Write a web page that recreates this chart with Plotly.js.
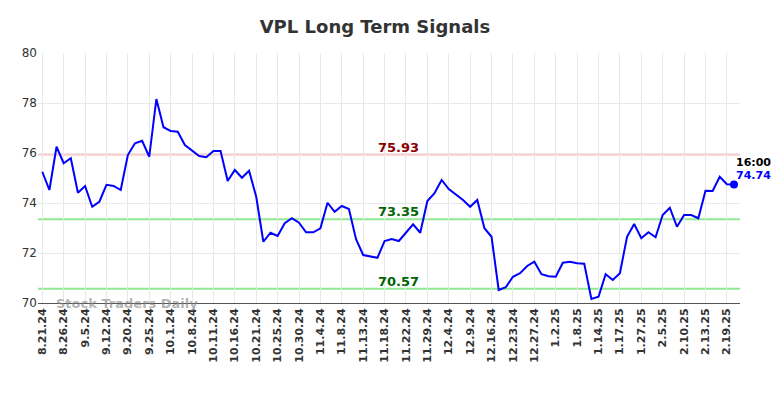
<!DOCTYPE html>
<html>
<head>
<meta charset="utf-8">
<script src="https://cdn.plot.ly/plotly-3.0.1.min.js"></script>
<style>html,body{margin:0;padding:0;background:#fff;}#chart{width:784px;height:398px;}</style>
</head>
<body>
<div id="chart"></div>
<script>
const tickLabels = ["8.21.24","8.26.24","9.5.24","9.12.24","9.20.24","9.25.24","10.1.24","10.8.24","10.11.24","10.16.24","10.21.24","10.25.24","10.30.24","11.4.24","11.8.24","11.13.24","11.18.24","11.22.24","11.29.24","12.4.24","12.9.24","12.16.24","12.23.24","12.27.24","1.2.25","1.8.25","1.14.25","1.17.25","1.27.25","2.5.25","2.10.25","2.13.25","2.19.25"];
const prices = [75.25,74.52,76.25,75.59,75.79,74.41,74.68,73.85,74.05,74.73,
74.68,74.52,75.92,76.39,76.49,75.85,78.16,77.03,76.88,76.85,
76.32,76.09,75.88,75.83,76.08,76.08,74.88,75.32,75.01,75.29,
74.25,72.45,72.81,72.68,73.19,73.39,73.21,72.83,72.83,72.99,
74.01,73.65,73.88,73.76,72.55,71.92,71.85,71.81,72.48,72.56,
72.48,72.81,73.15,72.81,74.08,74.39,74.92,74.56,74.35,74.12,
73.85,74.12,72.99,72.65,70.52,70.63,71.05,71.19,71.48,71.65,
71.15,71.07,71.05,71.61,71.65,71.59,71.57,70.16,70.25,71.15,
70.92,71.19,72.65,73.16,72.59,72.83,72.63,73.52,73.81,73.05,
73.52,73.52,73.39,74.49,74.48,75.05,74.75,74.74];
const resistance = 75.93;
const midLevel = 73.35;
const support = 70.57;
const lastTime = "16:00";

const idx = prices.map((_, i) => i);
const tickVals = tickLabels.map((_, i) => i * 3);
const last = prices.length - 1;

const traces = [
  {x: idx, y: prices, type: 'scatter', mode: 'lines', line: {color: '#0000ff', width: 2}, hoverinfo: 'skip'},
  {x: [last], y: [prices[last]], type: 'scatter', mode: 'markers', marker: {color: '#0000ff', size: 8}, hoverinfo: 'skip'}
];

const hline = (v, c) => ({type: 'line', xref: 'paper', x0: 0, x1: 1, y0: v, y1: v, line: {color: c, width: 2}, layer: 'below'});

const layout = {
  width: 784, height: 398,
  margin: {l: 38, r: 44, t: 53, b: 95},
  paper_bgcolor: '#ffffff', plot_bgcolor: '#ffffff',
  showlegend: false,
  font: {family: 'DejaVu Sans, sans-serif', color: '#333'},
  title: {text: 'VPL Long Term Signals', xref: 'paper', x: 0.48, xanchor: 'center', yref: 'container', y: 0.932, yanchor: 'middle', font: {size: 18, color: '#333', family: 'DejaVu Sans, sans-serif', weight: 'bold'}},
  xaxis: {
    range: [-0.6, 97.84], tickmode: 'array', tickvals: tickVals, ticktext: tickLabels,
    tickangle: -90, tickfont: {size: 11, color: '#333', weight: 'bold'},
    showgrid: true, gridcolor: '#e8e8e8', gridwidth: 1,
    showline: true, linecolor: '#555', linewidth: 1, zeroline: false, ticks: ''
  },
  yaxis: {
    range: [70, 80], tickvals: [70,72,74,76,78,80], tickfont: {size: 12, color: '#333'},
    showgrid: true, gridcolor: '#e8e8e8', gridwidth: 1, zeroline: false, showline: false, ticks: ''
  },
  shapes: [hline(resistance, '#ffcccc'), hline(midLevel, '#90e890'), hline(support, '#90e890')],
  annotations: [
    {x: 50, y: resistance, text: resistance.toFixed(2), showarrow: false, yanchor: 'bottom', yshift: -2, font: {size: 13, color: '#8b0000', weight: 'bold'}},
    {x: 50, y: midLevel, text: midLevel.toFixed(2), showarrow: false, yanchor: 'bottom', yshift: -2, font: {size: 13, color: '#006400', weight: 'bold'}},
    {x: 50, y: support, text: support.toFixed(2), showarrow: false, yanchor: 'bottom', yshift: -2, font: {size: 13, color: '#006400', weight: 'bold'}},
    {xref: 'paper', x: 0.023, y: 70, xanchor: 'left', yanchor: 'middle', text: 'Stock Traders Daily', showarrow: false, font: {size: 13, color: 'rgba(130,130,130,0.6)', weight: 'bold'}},
    {x: last, y: prices[last], xanchor: 'left', yanchor: 'middle', yshift: 22, text: lastTime, showarrow: false, font: {size: 11, color: '#000', weight: 'bold'}},
    {x: last, y: prices[last], xanchor: 'left', yanchor: 'middle', yshift: 9, text: prices[last].toFixed(2), showarrow: false, font: {size: 11, color: '#0000ff', weight: 'bold'}}
  ]
};

Plotly.newPlot('chart', traces, layout, {staticPlot: true, displayModeBar: false});
</script>
</body>
</html>
